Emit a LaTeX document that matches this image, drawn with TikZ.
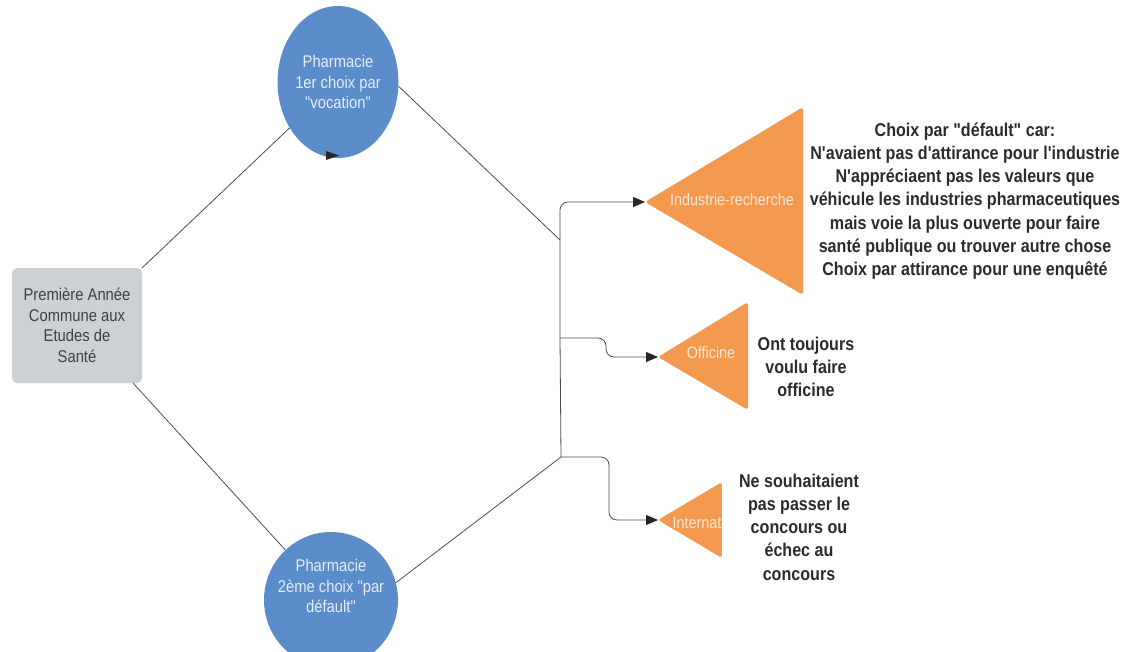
\documentclass[tikz,border=0pt]{standalone}
\usepackage{fontspec}
\setmainfont{Liberation Sans}[FakeStretch=0.87, Ligatures=TeXOff]
\usepackage{tikz}
\usetikzlibrary{shapes.geometric, arrows.meta, calc}

\definecolor{boxgrey}{HTML}{CED1D4}
\definecolor{pharmablue}{HTML}{5B8DCB}
\definecolor{choiceorange}{HTML}{F39A50}
\definecolor{linegrey}{HTML}{4D4D4D}
\definecolor{bluetext}{HTML}{E4EDF8}
\definecolor{orangetext}{HTML}{FCE6D2}
\definecolor{notetext}{HTML}{2B2B2B}

\newcommand{\smallfnt}{\fontsize{17}{20.5}\selectfont}
\newcommand{\notefnt}{\fontsize{18.5}{23.2}\selectfont\bfseries}

\tikzset{
  startbox/.style={fill=boxgrey, rounded corners=5pt, minimum width=130pt, minimum height=115pt,
    align=center, text=black!75, font=\smallfnt, inner sep=0pt},
  pharma/.style={ellipse, fill=pharmablue, inner sep=0pt, align=center, text=bluetext, font=\smallfnt},
  choice/.style={fill=choiceorange, rounded corners=3pt},
  choicetext/.style={text=orangetext, font=\fontsize{16.5}{20}\selectfont, inner sep=0pt},
  note/.style={align=center, text=notetext, font=\notefnt, inner sep=0pt},
  conn/.style={draw=linegrey, line width=0.8pt},
}

\begin{document}
\begin{tikzpicture}[x=1pt, y=-1pt, >={Triangle[length=12pt, width=10pt, color=black!85]}]
  \useasboundingbox (0,0) rectangle (1129,651);
  \clip (0,0) rectangle (1129,651);

  % PACES box and the two ways into pharmacy
  \node[startbox] (paces) at (77,325.5) {Première Année\\Commune aux\\Etudes de\\Santé};
  \node[pharma, minimum width=120pt, minimum height=152pt] (vocation) at (338,82)
    {Pharmacie\\1er choix par\\"vocation"};
  \node[pharma, minimum width=134pt, minimum height=136pt] (defaut) at (331,600) {};
  \node[text=bluetext, font=\smallfnt, align=center, inner sep=0pt] (defautlabel)
    at ([yshift=14pt]defaut.center) {Pharmacie\\2ème choix "par\\défault"};

  \draw[conn] (paces.north east) -- (vocation);
  \draw[conn] ([xshift=-9pt]paces.south east) -- (defaut);
  \fill[black!85] (326,151) -- (339,155.5) -- (326,160) -- cycle;

  % Choices (triangles)
  \fill[choice] (645,202) -- (803,107) -- (803,295) -- cycle;
  \coordinate (industip) at (645,202);
  \node[choicetext] (indus) at (732,200) {Industrie-recherche};

  \fill[choice] (658,357) -- (748,302) -- (748,410) -- cycle;
  \coordinate (offtip) at (658,357);
  \node[choicetext] (officine) at (711,353) {Officine};

  \begin{scope}
    \clip (658,520) -- (722,482) -- (722,558) -- cycle;
    \fill[choice] (658,520) -- (722,482) -- (722,558) -- cycle;
    \node[choicetext] (internat) at (697,523) {Internat};
  \end{scope}
  \coordinate (inttip) at (658,520);

  % Trunk and branches
  \coordinate (jtop) at (560,240);
  \coordinate (jmid) at (560,338);
  \coordinate (jbot) at (561,457);
  \coordinate (offbend) at (606,357);
  \coordinate (intbend) at (609,520);
  \draw[conn] (vocation.-4) -- (jtop);
  \draw[conn] (defaut.15) -- (jbot);
  \draw[conn] (jtop) -- (jmid) -- (jbot);
  \draw[conn, ->, rounded corners=8pt] (jtop) |- (industip);
  \draw[conn, ->, rounded corners=8pt] (jmid) -| (offbend) -- (offtip);
  \draw[conn, ->, rounded corners=8pt] (jbot) -| (intbend) -- (inttip);

  % Notes
  \node[note] (indusnote) at (965,201) {Choix par "défault" car:\\N'avaient pas d'attirance pour l'industrie\\N'appréciaent pas les valeurs que\\véhicule les industries pharmaceutiques\\mais voie la plus ouverte pour faire\\santé publique ou trouver autre chose\\Choix par attirance pour une enquêté};
  \node[note] (officinenote) at (806,367) {Ont toujours\\voulu faire\\officine};
  \node[note] (internatnote) at (799,527) {Ne souhaitaient\\pas passer le\\concours ou\\échec au\\concours};
\end{tikzpicture}
\end{document}
